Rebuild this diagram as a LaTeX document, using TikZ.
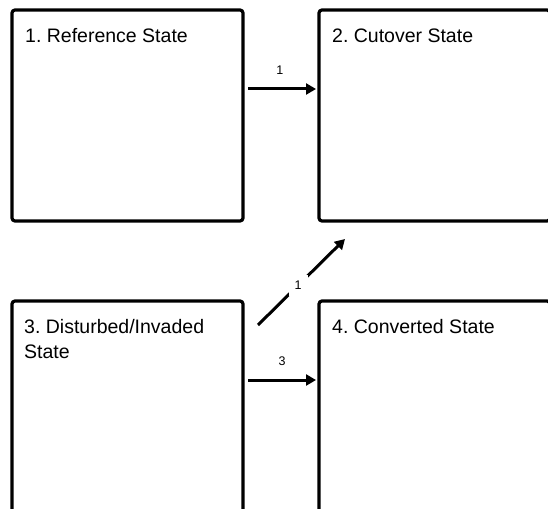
\documentclass[tikz,border=0pt]{standalone}
\usepackage{fontspec}
\setmainfont{Liberation Sans}
\usetikzlibrary{arrows.meta}
\frenchspacing
\begin{document}
\begin{tikzpicture}[x=1pt,y=-1pt,
  statebox/.style={draw=black, line width=3.2pt, rounded corners=3pt, minimum width=231pt, minimum height=211pt, inner sep=0pt, outer sep=0pt},
  conn/.style={line width=3pt, -{Triangle[length=10pt,width=11pt]}},
  lbl/.style={font=\fontsize{12.5}{14}\selectfont, inner sep=0pt},
  title/.style={anchor=base west, font=\fontsize{19.5}{25}\selectfont, align=left, inner sep=0pt}]
\useasboundingbox (0,0) rectangle (548,508);
\clip (0,0) rectangle (548,508);
\node[statebox] (b1) at (127.5,115.5) {};
\node[statebox] (b2) at (434.5,115.5) {};
\node[statebox] (b3) at (127.5,406.5) {};
\node[statebox] (b4) at (434.5,406.5) {};
\node[title] (t1) at (25,43) {1. Reference State};
\node[title] (t2) at (332,43) {2. Cutover State};
\node[title] (t3) at (24,358) {3. Disturbed/Invaded\\State};
\node[title] (t4) at (332,333) {4. Converted State};
\draw[conn] ([xshift=5pt,yshift=26.5pt]b1.east) -- ([xshift=-3pt,yshift=26.5pt]b2.west)
  node[lbl, pos=0.47, above=13pt] {1};
\draw[conn] ([xshift=5pt,yshift=26.5pt]b3.east) -- ([xshift=-3pt,yshift=26.5pt]b4.west)
  node[lbl, pos=0.5, above=13pt] {3};
\coordinate (d1) at ([xshift=15pt,yshift=-24pt]b3.north east);
\coordinate (d2) at ([xshift=26pt,yshift=-18pt]b2.south west);
\draw[conn] (d1) -- (d2) node[lbl, pos=0.46, fill=white, inner sep=6pt] {1};
\end{tikzpicture}
\end{document}
